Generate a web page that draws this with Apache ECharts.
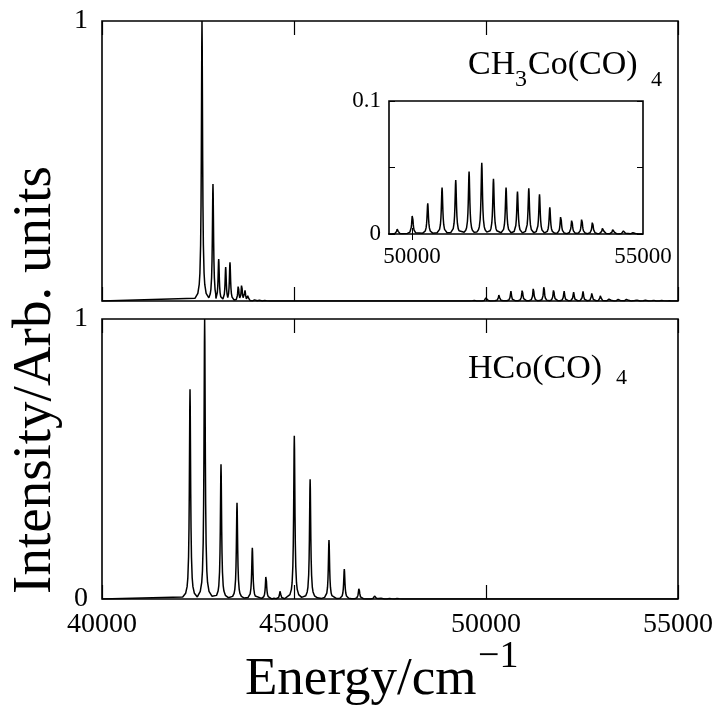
<!DOCTYPE html>
<html>
<head>
<meta charset="utf-8">
<script src="https://cdn.jsdelivr.net/npm/echarts@6/dist/echarts.min.js"></script>
<style>
  html, body { margin: 0; padding: 0; background: #fff; }
  #chart { width: 722px; height: 711px; }
</style>
</head>
<body>
<div id="chart"></div>
<script>
// Energy axis ticks (cm^-1)
const xTicks = [40000, 45000, 50000, 55000];
const insetXTicks = [50000, 55000];

// CH3Co(CO)4: line positions (cm^-1) and relative intensities
const ch3Positions = [42604, 42890, 43039, 43221, 43333, 43550, 43638, 43724, 43800, 43990, 44080, 44250,
  49682, 50007, 50339, 50649, 50945, 51234, 51509, 51762, 52035, 52282, 52527, 52759,
  52982, 53220, 53459, 53675, 53907, 54131, 54354, 54586, 54800];
const ch3Heights = [1.0, 0.418, 0.150, 0.121, 0.138, 0.056, 0.060, 0.038, 0.020, 0.008, 0.006, 0.004,
  0.004, 0.0148, 0.023, 0.035, 0.0405, 0.047, 0.0535, 0.0415, 0.035, 0.032, 0.0343, 0.0298,
  0.020, 0.0138, 0.011, 0.0118, 0.0093, 0.0058, 0.0043, 0.003, 0.002];

// HCo(CO)4: line positions (cm^-1) and relative intensities
const hcoPositions = [42292, 42673, 43099, 43516, 43915, 44271, 44497, 44640,
  45008, 45420, 45911, 46310, 46693, 47109, 47240, 47500, 47700];
const hcoHeights = [0.749, 1.0, 0.481, 0.344, 0.183, 0.086, 0.005, 0.030,
  0.583, 0.428, 0.211, 0.107, 0.040, 0.014, 0.008, 0.003, 0.003];

// Lorentzian line shape, sampled at multiples of the half width
const lineShape = [[0, 1], [0.3, 0.917], [0.6, 0.735], [1, 0.5], [1.4, 0.338],
  [2, 0.2], [3, 0.1], [4, 0.059], [6, 0.027], [10, 0.0099]];
const ch3HalfWidth = 18;
const hcoHalfWidth = 19;

// Broaden a stick spectrum with the line shape; each line's wings stop
// half way to its neighbours so the points stay in order.
function spectrum(pos, hts, hw, lo, hi) {
  const pts = [[lo, 0]];
  for (let i = 0; i < pos.length; i++) {
    const left = i > 0 ? (pos[i - 1] + pos[i]) / 2 : lo;
    const right = i < pos.length - 1 ? (pos[i] + pos[i + 1]) / 2 : hi;
    for (let k = lineShape.length - 1; k >= 1; k--) {
      const x = pos[i] - lineShape[k][0] * hw;
      if (x > left) pts.push([x, hts[i] * lineShape[k][1]]);
    }
    pts.push([pos[i], hts[i]]);
    for (let k = 1; k < lineShape.length; k++) {
      const x = pos[i] + lineShape[k][0] * hw;
      if (x < right) pts.push([x, hts[i] * lineShape[k][1]]);
    }
  }
  pts.push([hi, 0]);
  return pts;
}

const ch3Data = spectrum(ch3Positions, ch3Heights, ch3HalfWidth, 40000, 55000);
const hcoData = spectrum(hcoPositions, hcoHeights, hcoHalfWidth, 40000, 55000);

const FONT = 'Liberation Serif';
const frame = { show: true, borderColor: '#000', borderWidth: 1.6, backgroundColor: '#fff' };
const plain = v => String(v);

function energyAxis(grid, position, showLabels) {
  return {
    type: 'value', gridIndex: grid, position: position,
    min: 40000, max: 55000, interval: 5000,
    axisLine: { show: false },
    splitLine: { show: false },
    axisTick: { show: true, inside: true, length: 14, lineStyle: { color: '#000', width: 1.2 } },
    axisLabel: showLabels ? {
      show: true, fontFamily: FONT, fontSize: 28, color: '#000', margin: 12,
      customValues: xTicks, formatter: plain
    } : { show: false }
  };
}

const chart = echarts.init(document.getElementById('chart'), null, { renderer: 'canvas' });

chart.setOption({
  animation: false,
  backgroundColor: '#fff',
  grid: [
    Object.assign({ left: 102, top: 21, width: 576, height: 280 }, frame),
    Object.assign({ left: 102, top: 319, width: 576, height: 280 }, frame),
    Object.assign({ left: 389, top: 101, width: 254, height: 133 }, frame)
  ],
  xAxis: [
    energyAxis(0, 'bottom', false),
    energyAxis(0, 'top', false),
    energyAxis(1, 'bottom', true),
    energyAxis(1, 'top', false),
    {
      type: 'value', gridIndex: 2, position: 'bottom', min: 49500, max: 55000,
      axisLine: { show: false }, splitLine: { show: false },
      axisTick: { show: true, inside: true, length: 6, customValues: [50000], lineStyle: { color: '#000' } },
      axisLabel: { show: true, customValues: insetXTicks, formatter: plain,
        fontFamily: FONT, fontSize: 23, color: '#000', margin: 11 }
    },
    {
      type: 'value', gridIndex: 2, position: 'top', min: 49500, max: 55000,
      axisLine: { show: false }, splitLine: { show: false },
      axisTick: { show: true, inside: true, length: 6, customValues: [50000], lineStyle: { color: '#000' } },
      axisLabel: { show: false }
    }
  ],
  yAxis: [
    {
      type: 'value', gridIndex: 0, min: 0, max: 1, interval: 1,
      axisLine: { show: false }, splitLine: { show: false }, axisTick: { show: false },
      axisLabel: { fontFamily: FONT, fontSize: 28, color: '#000', margin: 14, padding: [8, 0, 0, 0],
        formatter: v => (v === 1 ? '1' : '') }
    },
    {
      type: 'value', gridIndex: 1, min: 0, max: 1, interval: 1,
      axisLine: { show: false }, splitLine: { show: false }, axisTick: { show: false },
      axisLabel: { fontFamily: FONT, fontSize: 28, color: '#000', margin: 14, padding: [8, 0, 0, 0] }
    },
    {
      type: 'value', gridIndex: 2, position: 'left', min: 0, max: 0.1, interval: 0.05,
      axisLine: { show: false }, splitLine: { show: false },
      axisTick: { show: true, inside: true, length: 6, lineStyle: { color: '#000' } },
      axisLabel: { fontFamily: FONT, fontSize: 23, color: '#000', margin: 8,
        formatter: v => (v === 0 ? '0' : (Math.abs(v - 0.1) < 1e-9 ? '0.1' : '')) }
    },
    {
      type: 'value', gridIndex: 2, position: 'right', min: 0, max: 0.1, interval: 0.05,
      axisLine: { show: false }, splitLine: { show: false },
      axisTick: { show: true, inside: true, length: 6, lineStyle: { color: '#000' } },
      axisLabel: { show: false }
    }
  ],
  series: [
    { type: 'line', xAxisIndex: 0, yAxisIndex: 0, data: ch3Data, showSymbol: false,
      lineStyle: { color: '#000', width: 1.5 }, z: 3 },
    { type: 'line', xAxisIndex: 2, yAxisIndex: 1, data: hcoData, showSymbol: false,
      lineStyle: { color: '#000', width: 1.5 }, z: 3 },
    { type: 'line', xAxisIndex: 4, yAxisIndex: 2, data: ch3Data, showSymbol: false,
      lineStyle: { color: '#000', width: 1.5 }, z: 3 }
  ],
  graphic: [
    // panel labels
    { type: 'text', left: 468, top: 48, z: 10, style: { text: 'CH', font: '34px "Liberation Serif"', fill: '#000' } },
    { type: 'text', left: 515, top: 68, z: 10, style: { text: '3', font: '24px "Liberation Serif"', fill: '#000' } },
    { type: 'text', left: 528, top: 48, z: 10, style: { text: 'Co(CO)', font: '34px "Liberation Serif"', fill: '#000' } },
    { type: 'text', left: 651, top: 69, z: 10, style: { text: '4', font: '22px "Liberation Serif"', fill: '#000' } },
    { type: 'text', left: 468, top: 352, z: 10, style: { text: 'HCo(CO)', font: '34px "Liberation Serif"', fill: '#000' } },
    { type: 'text', left: 616, top: 367, z: 10, style: { text: '4', font: '22px "Liberation Serif"', fill: '#000' } },
    // axis titles
    { type: 'text', x: 36, y: 380, rotation: Math.PI / 2, z: 10,
      style: { text: 'Intensity/Arb. units', font: '55px "Liberation Serif"', fill: '#000',
        align: 'center', verticalAlign: 'middle' } },
    { type: 'text', left: 245, top: 654, z: 10, style: { text: 'Energy/cm', font: '53px "Liberation Serif"', fill: '#000' } },
    { type: 'text', left: 478, top: 638, z: 10, style: { text: '\u22121', font: '38px "Liberation Serif"', fill: '#000' } }
  ]
});
</script>
</body>
</html>
